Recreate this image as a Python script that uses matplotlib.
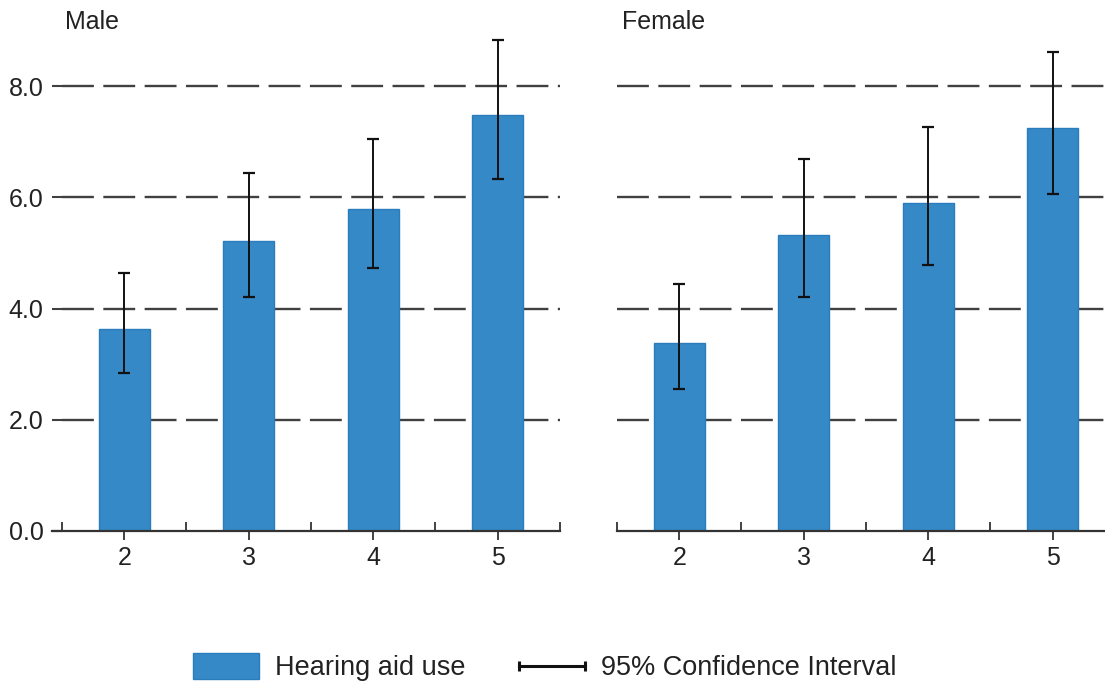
"""
plot.py  -  Hearing aid use by category, Male / Female panels with 95% CI.
"""

import numpy as np
import matplotlib as mpl
mpl.use('Agg')
import matplotlib.pyplot as plt
from matplotlib.patches import Patch
from matplotlib.lines import Line2D
from matplotlib.legend_handler import HandlerBase

# --- Data ---
CATEGORIES = [2, 3, 4, 5]
TICK_LABELS = ['2', '3', '4', '5']

MALE      = [3.63, 5.22, 5.79, 7.48]
MALE_LO   = [2.84, 4.21, 4.73, 6.33]
MALE_HI   = [4.64, 6.44, 7.05, 8.83]

FEMALE    = [3.38, 5.32, 5.90, 7.25]
FEMALE_LO = [2.55, 4.21, 4.78, 6.06]
FEMALE_HI = [4.44, 6.69, 7.27, 8.62]

Y_TICKS = [0.0, 2.0, 4.0, 6.0, 8.0]
GRID_Y  = [2.0, 4.0, 6.0, 8.0]

# --- Style ---
BAR_COLOR  = '#3589c6'
BAR_EDGE   = '#2a7cbd'
TEXT_COLOR = '#222222'
AXIS_COLOR = '#333333'
GRID_COLOR = '#404040'
FS = 18
FS_LEG = 19.5

W, H = 1105, 689


class HandlerCI(HandlerBase):
    """Horizontal line with end caps, for the CI legend entry."""
    def create_artists(self, legend, orig_handle, xdescent, ydescent,
                       width, height, fontsize, trans):
        y = height / 2 - ydescent
        xs = [-xdescent, width - xdescent]
        line = Line2D(xs, [y, y], color='#111111', lw=2.2)
        caps = Line2D(xs, [y, y], color='#111111', ls='none',
                      marker='|', ms=7, mew=2.2)
        line.set_transform(trans)
        caps.set_transform(trans)
        return [line, caps]


def draw_panel(ax, vals, lo, hi, xlim, show_ylabels):
    x = np.array(CATEGORIES, dtype=float)
    vals = np.array(vals)
    err = np.vstack([vals - np.array(lo), np.array(hi) - vals])

    ax.hlines(GRID_Y, 1.5, 5.5, colors=GRID_COLOR, lw=1.7,
              linestyles=(0, (13.5, 4.0)), zorder=1)
    ax.bar(x, vals, width=0.41, color=BAR_COLOR, edgecolor=BAR_EDGE,
           lw=1.0, zorder=2)
    ax.errorbar(x, vals, yerr=err, fmt='none', ecolor='#111111',
                elinewidth=1.4, capsize=4.3, capthick=1.6, zorder=3)

    for side in ('top', 'right', 'left'):
        ax.spines[side].set_visible(False)
    ax.spines['bottom'].set_color(AXIS_COLOR)
    ax.spines['bottom'].set_linewidth(1.6)

    ax.set_xticks(x)
    ax.set_xticklabels(TICK_LABELS)
    ax.set_xticks([1.5, 2.5, 3.5, 4.5, 5.5], minor=True)
    ax.tick_params(axis='x', which='major', direction='out', length=6.5,
                   width=1.3, color=AXIS_COLOR, labelsize=FS,
                   labelcolor=TEXT_COLOR, pad=4)
    ax.tick_params(axis='x', which='minor', direction='in', length=6.5,
                   width=1.3, color=AXIS_COLOR)

    ax.set_yticks(Y_TICKS)
    if show_ylabels:
        ax.set_yticklabels([f'{v:.1f}' for v in Y_TICKS])
        ax.tick_params(axis='y', direction='in', length=7, width=1.5,
                       color=GRID_COLOR, labelsize=FS,
                       labelcolor=TEXT_COLOR, pad=6)
    else:
        ax.tick_params(axis='y', length=0, labelleft=False)

    # limits last: set_xticks may widen the view
    ax.set_xlim(*xlim)
    ax.set_ylim(0, 9.0)


def main():
    plt.rcParams['font.family'] = ['Liberation Sans', 'DejaVu Sans']

    fig = plt.figure(figsize=(W / 100, H / 100), dpi=100)

    bottom = 1 - 531 / H
    height = (531 - 30.6) / H

    ax_m = fig.add_axes([52 / W, bottom, (560 - 52) / W, height])
    ax_f = fig.add_axes([617 / W, bottom, (W - 617) / W, height])
    for ax in (ax_m, ax_f):
        ax.patch.set_alpha(0)

    draw_panel(ax_m, MALE, MALE_LO, MALE_HI, (1.42, 5.5), True)
    draw_panel(ax_f, FEMALE, FEMALE_LO, FEMALE_HI, (1.5, 5.42), False)

    fig.text(65 / W, 1 - 22 / H, 'Male', fontsize=FS, color=TEXT_COLOR,
             ha='left', va='center')
    fig.text(622 / W, 1 - 22 / H, 'Female', fontsize=FS, color=TEXT_COLOR,
             ha='left', va='center')

    # --- Legend ---
    bar_handle = Patch(facecolor=BAR_COLOR, edgecolor=BAR_EDGE, lw=1.0)
    ci_handle = Line2D([], [], color='#111111')
    fig.legend([bar_handle, ci_handle],
               ['Hearing aid use', '95% Confidence Interval'],
               handler_map={ci_handle: HandlerCI()},
               loc='center', bbox_to_anchor=(545 / W, 1 - 667 / H),
               ncol=2, frameon=False, fontsize=FS_LEG,
               handlelength=2.44, handleheight=1.1, handletextpad=0.6,
               columnspacing=1.96, labelcolor=TEXT_COLOR)

    fig.savefig('out.png', dpi=100)


if __name__ == '__main__':
    main()
